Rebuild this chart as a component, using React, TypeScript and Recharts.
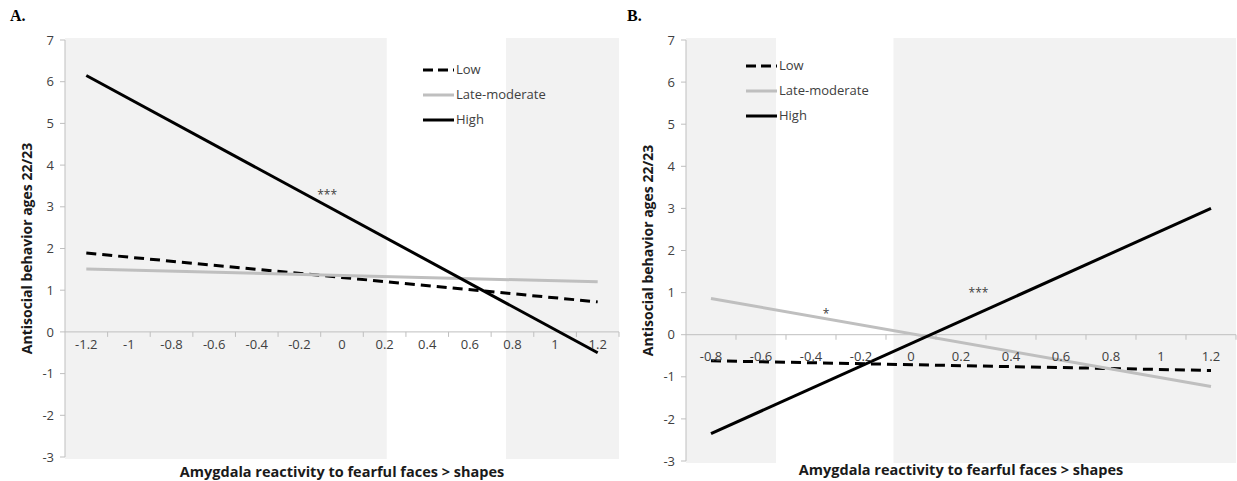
import React from 'react'
import {
  LineChart,
  Line,
  XAxis,
  YAxis,
  ReferenceArea,
  ReferenceLine,
  ReferenceDot,
  Legend,
} from 'recharts'

// ── data ────────────────────────────────────────────────────────────────────

const Y_TICKS = [-3, -2, -1, 0, 1, 2, 3, 4, 5, 6, 7]

// panel A: endpoints of each simple slope
const A_X = [-1.2, 1.2]
const A_LOW = [1.89, 0.72]
const A_LATE = [1.51, 1.2]
const A_HIGH = [6.15, -0.5]
const A_TICKS = [-1.2, -1, -0.8, -0.6, -0.4, -0.2, 0, 0.2, 0.4, 0.6, 0.8, 1, 1.2]
const A_SHADE = [
  [-1.3, 0.21],
  [0.77, 1.3],
]
const A_NOTES = [{ x: -0.07, y: 3.3, text: '***' }]

// panel B
const B_X = [-0.8, 1.2]
const B_LOW = [-0.62, -0.85]
const B_LATE = [0.86, -1.23]
const B_HIGH = [-2.35, 3.0]
const B_TICKS = [-0.8, -0.6, -0.4, -0.2, 0, 0.2, 0.4, 0.6, 0.8, 1, 1.2]
const B_SHADE = [
  [-0.9, -0.54],
  [-0.07, 1.3],
]
const B_NOTES = [
  { x: -0.34, y: 0.5, text: '*' },
  { x: 0.27, y: 1.0, text: '***' },
]

const SERIES = [
  { key: 'low', name: 'Low', color: '#000000', dash: '10 6' },
  { key: 'late', name: 'Late-moderate', color: '#bfbfbf', dash: undefined },
  { key: 'high', name: 'High', color: '#000000', dash: undefined },
]

const AXIS = '#bfbfbf'
const TEXT = '#404040'
const Y_TITLE = 'Antisocial behavior ages 22/23'
const X_TITLE = 'Amygdala reactivity to fearful faces > shapes'

function buildRows(x: number[], low: number[], late: number[], high: number[]) {
  return x.map((v, i) => ({ x: v, low: low[i], late: late[i], high: high[i] }))
}

function LegendBox() {
  return (
    <div style={{ fontSize: 13, color: TEXT, lineHeight: '25px' }}>
      {SERIES.map((s) => (
        <div key={s.key} style={{ display: 'flex', alignItems: 'center' }}>
          <svg width={31} height={10}>
            <line
              x1={0}
              y1={5}
              x2={31}
              y2={5}
              stroke={s.color}
              strokeWidth={3}
              strokeDasharray={s.dash ? '10 5' : undefined}
            />
          </svg>
          <span style={{ marginLeft: 2 }}>{s.name}</span>
        </div>
      ))}
    </div>
  )
}

type PanelProps = {
  letter: string
  left: number
  width: number
  plotLeft: number
  plotBottom: number
  domain: [number, number]
  ticks: number[]
  rows: { x: number; low: number; late: number; high: number }[]
  shade: number[][]
  notes: { x: number; y: number; text: string }[]
  legendLeft: number
  legendTop: number
  labelDy: number
}

const H = 481
const TOP = 40

function Panel(p: PanelProps) {
  const plotH = H - TOP - p.plotBottom
  const zeroY = TOP + (plotH * 7) / 10
  const step = p.ticks[1] - p.ticks[0]
  const marks = p.ticks.map((t) => +(t + step / 2).toFixed(2))
  return (
    <div style={{ position: 'absolute', left: p.left, top: 0, width: p.width, height: H }}>
      <div
        style={{
          position: 'absolute',
          left: p.letter === 'A.' ? 10 : 7,
          top: 7,
          fontFamily: '"Liberation Serif", serif',
          fontWeight: 700,
          fontSize: 16,
        }}
      >
        {p.letter}
      </div>
      <LineChart
        width={p.width}
        height={H}
        data={p.rows}
        margin={{ top: TOP, right: 1, bottom: 0, left: p.plotLeft - 30 }}
      >
        {p.shade.map(([a, b], i) => (
          <ReferenceArea
            key={i}
            x1={a}
            x2={b}
            y1={-3.05}
            y2={7.05}
            fill="#f2f2f2"
            fillOpacity={1}
            stroke="none"
            ifOverflow="visible"
          />
        ))}
        <XAxis
          dataKey="x"
          type="number"
          domain={p.domain}
          ticks={p.ticks}
          interval={0}
          axisLine={false}
          tickLine={false}
          height={p.plotBottom}
          tick={(t: any) => (
            <text
              x={t.x}
              y={zeroY + p.labelDy}
              textAnchor="middle"
              fontSize={13}
              fill={TEXT}
            >
              {String(t.payload.value)}
            </text>
          )}
          label={{
            value: X_TITLE,
            position: 'insideBottom',
            offset: p.letter === 'A.' ? 4 : 6,
            style: { fontWeight: 700, fontSize: 14.5, fill: '#1a1a1a' },
          }}
        />
        <YAxis
          type="number"
          domain={[-3, 7]}
          ticks={Y_TICKS}
          interval={0}
          width={30}
          tickSize={5}
          tickMargin={6}
          axisLine={{ stroke: AXIS }}
          tickLine={{ stroke: AXIS }}
          tick={{ fontSize: 13, fill: TEXT }}
          label={{
            value: Y_TITLE,
            angle: -90,
            position: 'insideLeft',
            offset: -8,
            style: { fontWeight: 700, fontSize: 14, fill: '#1a1a1a', textAnchor: 'middle' },
          }}
        />
        <ReferenceLine y={0} stroke={AXIS} strokeWidth={1} />
        {marks.map((m) => (
          <ReferenceLine
            key={m}
            segment={[
              { x: m, y: 0 },
              { x: m, y: -0.12 },
            ]}
            stroke={AXIS}
          />
        ))}
        {SERIES.map((s) => (
          <Line
            key={s.key}
            dataKey={s.key}
            name={s.name}
            stroke={s.color}
            strokeWidth={3}
            strokeDasharray={s.dash}
            dot={false}
            activeDot={false}
            isAnimationActive={false}
          />
        ))}
        {p.notes.map((n, i) => (
          <ReferenceDot
            key={i}
            x={n.x}
            y={n.y}
            r={1}
            fill="none"
            stroke="none"
            label={{ value: n.text, position: 'center', fontSize: 12, fill: TEXT }}
          />
        ))}
        <Legend
          layout="vertical"
          align="center"
          verticalAlign="middle"
          content={() => <LegendBox />}
          wrapperStyle={{ left: p.legendLeft, top: p.legendTop, width: 'auto' }}
        />
      </LineChart>
    </div>
  )
}

export default function App() {
  return (
    <div
      style={{
        position: 'absolute',
        left: 0,
        top: 0,
        width: 1237,
        height: H,
        background: '#fff',
        fontFamily: '"Open Sans", sans-serif',
      }}
    >
      <Panel
        letter="A."
        left={0}
        width={620}
        plotLeft={65}
        plotBottom={24}
        domain={[-1.3, 1.3]}
        ticks={A_TICKS}
        rows={buildRows(A_X, A_LOW, A_LATE, A_HIGH)}
        shade={A_SHADE}
        notes={A_NOTES}
        legendLeft={423}
        legendTop={57}
        labelDy={17}
      />
      <Panel
        letter="B."
        left={620}
        width={617}
        plotLeft={66}
        plotBottom={20}
        domain={[-0.9, 1.3]}
        ticks={B_TICKS}
        rows={buildRows(B_X, B_LOW, B_LATE, B_HIGH)}
        shade={B_SHADE}
        notes={B_NOTES}
        legendLeft={126}
        legendTop={53}
        labelDy={26}
      />
    </div>
  )
}
